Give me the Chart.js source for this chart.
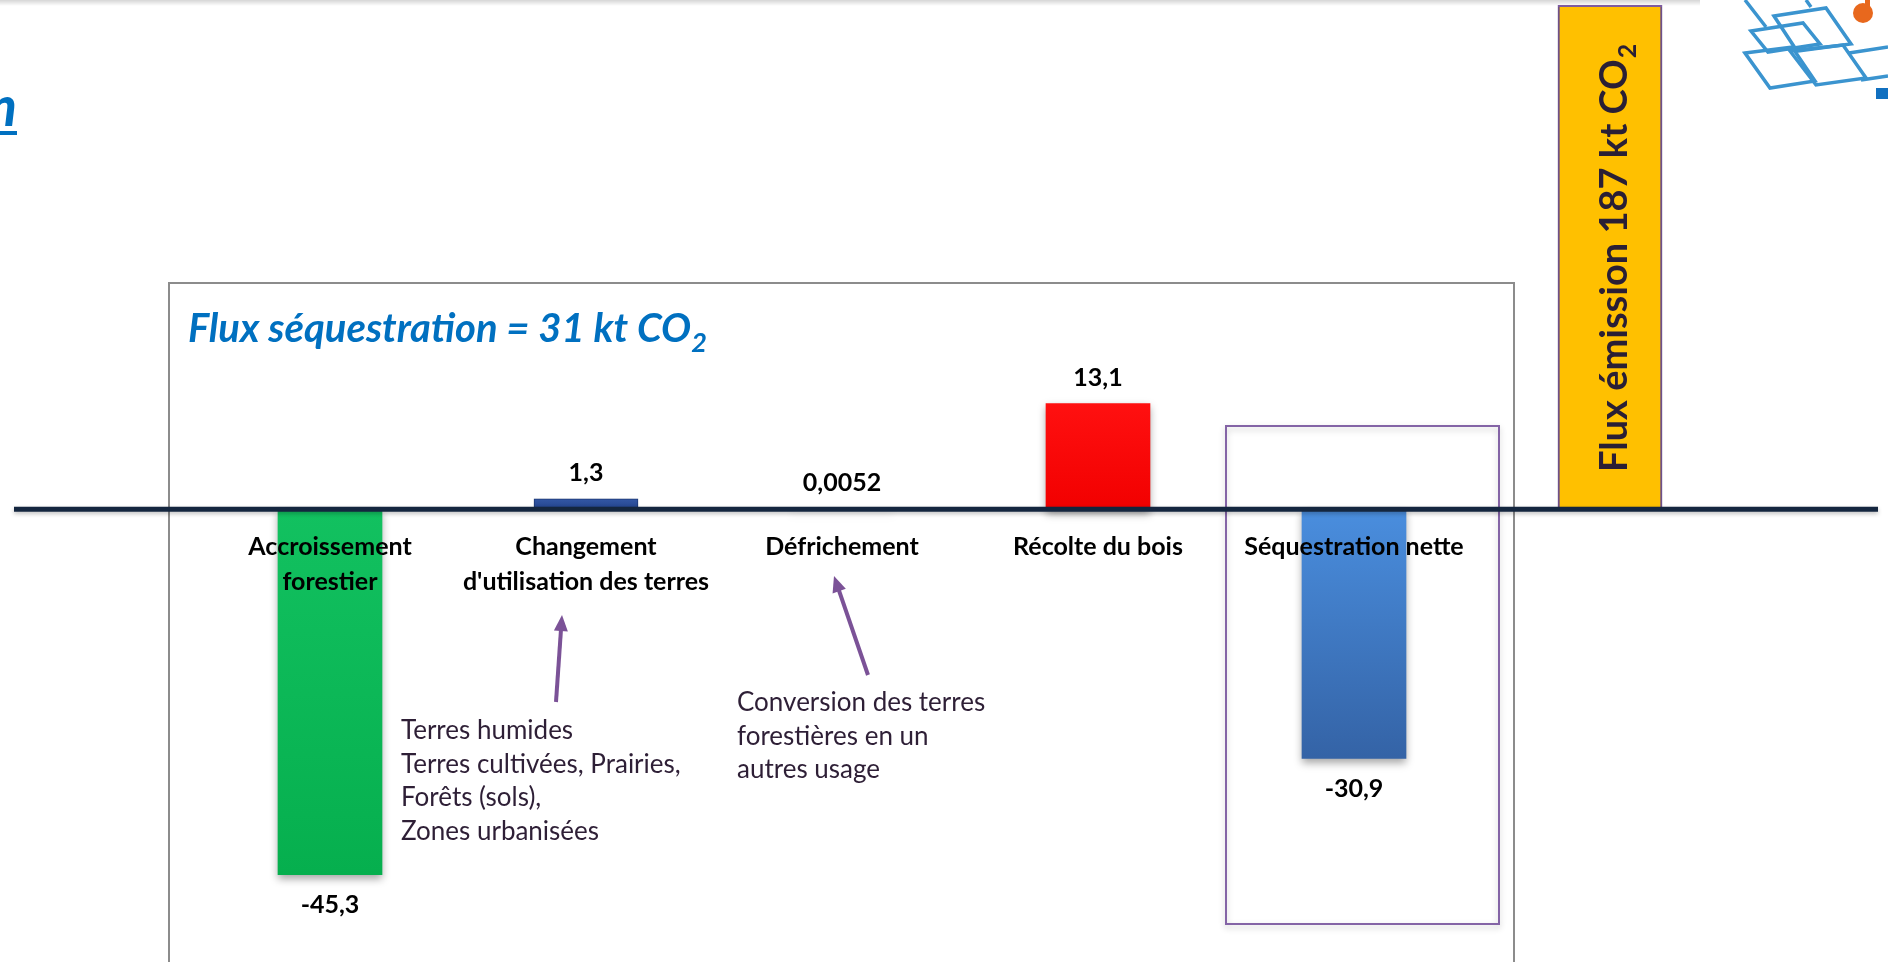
<!DOCTYPE html>
<html>
<head>
<meta charset="utf-8">
<script src="https://cdn.jsdelivr.net/npm/chart.js@4.4.1/dist/chart.umd.min.js"></script>
<style>
  html, body { margin: 0; padding: 0; background: #fff; overflow: hidden; }
  #flux { display: block; }
</style>
</head>
<body>
<canvas id="flux" width="1888" height="962"></canvas>
<script>
// valeurs (kt CO2)
var categories = [['Accroissement', 'forestier'], ['Changement', "d'utilisation des terres"], ['Défrichement'], ['Récolte du bois'], ['Séquestration nette'], ['']];
var valeurs = [-45.3, 1.3, 0.0052, 13.1, -30.9, 187];
var etiquettes = ['-45,3', '1,3', '0,0052', '13,1', '-30,9', ''];

var couleursHaut = ['#12c160', '#3458a6', '#d9dde6', '#ff1010', '#4a8ede', '#ffc000'];
var couleursBas = ['#06af4e', '#22438c', '#d9dde6', '#f20000', '#3463a6', '#ffc000'];

var titreSequestration = 'Flux séquestration = 31 kt CO';
var titreEmission = 'Flux émission 187 kt CO';
var noteChangement = ['Terres humides', 'Terres cultivées, Prairies,', 'Forêts (sols),', 'Zones urbanisées'];
var noteDefrichement = ['Conversion des terres', 'forestières en un', 'autres usage'];

var police = 'Lato, "Open Sans", sans-serif';

function degrade(context) {
  var chart = context.chart;
  var i = context.dataIndex;
  if (!chart.chartArea || i === undefined) return couleursHaut[i] || '#ccc';
  var y = chart.scales.y;
  var y0 = y.getPixelForValue(0);
  var y1 = Math.max(y.getPixelForValue(valeurs[i]), chart.chartArea.top);
  if (Math.abs(y1 - y0) < 1) return couleursHaut[i];
  var g = chart.ctx.createLinearGradient(0, Math.min(y0, y1), 0, Math.max(y0, y1));
  g.addColorStop(0, couleursHaut[i]);
  g.addColorStop(1, couleursBas[i]);
  return g;
}

function fleche(ctx, x1, y1, x2, y2) {
  var a = Math.atan2(y2 - y1, x2 - x1);
  ctx.strokeStyle = '#7b5297';
  ctx.fillStyle = '#7b5297';
  ctx.lineWidth = 4;
  ctx.beginPath();
  ctx.moveTo(x1, y1);
  ctx.lineTo(x2 - 12 * Math.cos(a), y2 - 12 * Math.sin(a));
  ctx.stroke();
  ctx.beginPath();
  ctx.moveTo(x2, y2);
  ctx.lineTo(x2 - 16 * Math.cos(a) + 7 * Math.sin(a), y2 - 16 * Math.sin(a) - 7 * Math.cos(a));
  ctx.lineTo(x2 - 16 * Math.cos(a) - 7 * Math.sin(a), y2 - 16 * Math.sin(a) + 7 * Math.cos(a));
  ctx.closePath();
  ctx.fill();
}

function poly(ctx, pts) {
  ctx.beginPath();
  ctx.moveTo(pts[0][0], pts[0][1]);
  for (var k = 1; k < pts.length; k++) ctx.lineTo(pts[k][0], pts[k][1]);
  ctx.closePath();
  ctx.stroke();
}

var decor = {
  id: 'decor',
  beforeDraw: function (chart) {
    var ctx = chart.ctx;
    ctx.save();
    // ombre du bandeau en haut
    var g = ctx.createLinearGradient(0, 0, 0, 6);
    g.addColorStop(0, 'rgba(0,0,0,0.16)');
    g.addColorStop(1, 'rgba(0,0,0,0)');
    ctx.fillStyle = g;
    ctx.fillRect(0, 0, 1700, 6);

    // cadre gris
    ctx.strokeStyle = '#8c8c8c';
    ctx.lineWidth = 2;
    ctx.strokeRect(169, 283, 1345, 720);

    // cadre violet autour de la séquestration nette
    ctx.shadowColor = 'rgba(0,0,0,0.22)';
    ctx.shadowBlur = 6;
    ctx.shadowOffsetY = 3;
    ctx.strokeStyle = '#8464a6';
    ctx.lineWidth = 2;
    ctx.strokeRect(1226, 426, 273, 498);
    ctx.restore();
  },
  beforeDatasetsDraw: function (chart) {
    var ctx = chart.ctx;
    ctx.save();
    ctx.shadowColor = 'rgba(0,0,0,0.35)';
    ctx.shadowBlur = 8;
    ctx.shadowOffsetY = 4;
  },
  afterDatasetsDraw: function (chart) {
    var ctx = chart.ctx;
    ctx.restore();
    var meta = chart.getDatasetMeta(0);
    var y0 = chart.scales.y.getPixelForValue(0);
    var xs = chart.scales.x;

    // bord haut de la barre jaune (coupée)
    var jaune = meta.data[5];
    ctx.save();
    ctx.strokeStyle = '#7e5ba0';
    ctx.lineWidth = 2;
    ctx.beginPath();
    ctx.moveTo(jaune.x - jaune.width / 2, chart.chartArea.top + 1);
    ctx.lineTo(jaune.x + jaune.width / 2, chart.chartArea.top + 1);
    ctx.stroke();

    // ligne du zéro
    ctx.shadowColor = 'rgba(0,0,0,0.25)';
    ctx.shadowBlur = 4;
    ctx.shadowOffsetY = 2;
    ctx.strokeStyle = '#14263f';
    ctx.lineWidth = 5;
    ctx.beginPath();
    ctx.moveTo(14, y0);
    ctx.lineTo(1878, y0);
    ctx.stroke();
    ctx.restore();

    ctx.save();
    ctx.textAlign = 'center';
    ctx.textBaseline = 'middle';

    // étiquettes des catégories
    ctx.fillStyle = '#000';
    ctx.font = 'bold 25px ' + police;
    categories.forEach(function (lignes, i) {
      var x = xs.getPixelForValue(i);
      lignes.forEach(function (t, k) {
        ctx.fillText(t, x, y0 + 38 + k * 35);
      });
    });

    // valeurs
    ctx.font = 'bold 25px ' + police;
    meta.data.forEach(function (el, i) {
      if (!etiquettes[i]) return;
      var y = valeurs[i] >= 0 ? Math.min(el.y, el.base) - 26 : Math.max(el.y, el.base) + 30;
      ctx.fillText(etiquettes[i], el.x, y);
    });

    // texte vertical dans la barre jaune
    ctx.translate(jaune.x + 17, 472);
    ctx.rotate(-Math.PI / 2);
    ctx.textAlign = 'left';
    ctx.textBaseline = 'alphabetic';
    ctx.fillStyle = '#2a1f35';
    ctx.font = 'bold 38px ' + police;
    ctx.fillText(titreEmission, 0, 0);
    var w = ctx.measureText(titreEmission).width;
    ctx.font = 'bold 25px ' + police;
    ctx.fillText('2', w + 1, 9);
    ctx.restore();
  },
  afterDraw: function (chart) {
    var ctx = chart.ctx;
    ctx.save();

    // titre de la zone
    ctx.fillStyle = '#0070c0';
    ctx.textBaseline = 'alphabetic';
    ctx.font = 'italic bold 40px ' + police;
    ctx.fillText(titreSequestration, 188, 342);
    var w = ctx.measureText(titreSequestration).width;
    ctx.font = 'italic bold 27px ' + police;
    ctx.fillText('2', 188 + w, 352);

    // reste du titre de la diapo, coupé à gauche
    ctx.font = 'italic bold 56px ' + police;
    ctx.textAlign = 'right';
    ctx.fillText('n', 17, 126);
    ctx.fillRect(0, 131, 17, 4);

    // notes
    ctx.textAlign = 'left';
    ctx.fillStyle = '#2e1f36';
    ctx.font = '26px ' + police;
    noteChangement.forEach(function (t, k) {
      ctx.fillText(t, 401, 739 + k * 33.5);
    });
    noteDefrichement.forEach(function (t, k) {
      ctx.fillText(t, 737, 711 + k * 33.5);
    });
    fleche(ctx, 556, 702, 562, 615);
    fleche(ctx, 868, 675, 834, 576);

    // logo
    ctx.strokeStyle = '#3b94cf';
    ctx.lineWidth = 3.5;
    ctx.beginPath();
    ctx.moveTo(1745, 0); ctx.lineTo(1766, 27);
    ctx.moveTo(1806, 0); ctx.lineTo(1811, 7);
    ctx.moveTo(1849, 53); ctx.lineTo(1888, 47);
    ctx.moveTo(1861, 80); ctx.lineTo(1888, 76);
    ctx.stroke();
    poly(ctx, [[1751, 31], [1803, 23], [1820, 44], [1768, 52]]);
    poly(ctx, [[1774, 16], [1826, 8], [1851, 44], [1797, 51]]);
    poly(ctx, [[1745, 53], [1792, 47], [1815, 81], [1770, 88]]);
    poly(ctx, [[1790, 51], [1843, 45], [1866, 78], [1816, 85]]);
    ctx.fillStyle = '#e8681d';
    ctx.beginPath();
    ctx.arc(1863, 13, 10, 0, Math.PI * 2);
    ctx.fill();
    ctx.fillRect(1865, 0, 5, 6);
    ctx.fillStyle = '#1170c0';
    ctx.fillRect(1876, 88, 12, 11);
    ctx.restore();
  }
};

var ctx = document.getElementById('flux');
var monGraphique = new Chart(ctx, {
  type: 'bar',
  data: {
    labels: categories,
    datasets: [{
      data: valeurs,
      backgroundColor: degrade,
      borderColor: ['rgba(0,0,0,0)', '#1d3a7a', 'rgba(0,0,0,0)', 'rgba(0,0,0,0)', 'rgba(0,0,0,0)', '#7e5ba0'],
      borderWidth: [0, 1, 0, 0, 0, 2],
      barThickness: 104,
      clip: 0
    }]
  },
  options: {
    responsive: false,
    devicePixelRatio: 1,
    animation: false,
    layout: { padding: { left: 202, right: 150, top: 5, bottom: 1 } },
    plugins: {
      legend: { display: false },
      tooltip: { enabled: false }
    },
    scales: {
      x: { display: false },
      y: { display: false, min: -56, max: 62.5 }
    }
  },
  plugins: [decor]
});
</script>
</body>
</html>
